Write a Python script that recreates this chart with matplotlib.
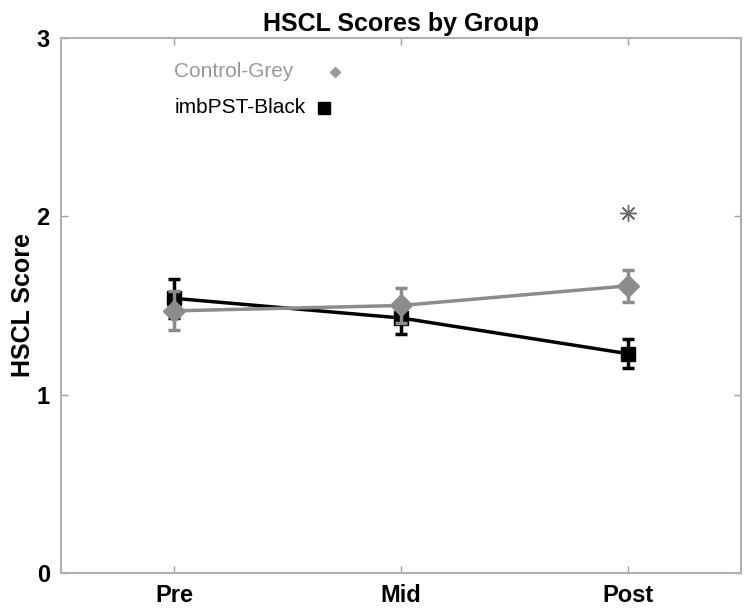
import numpy as np
import matplotlib
matplotlib.use("Agg")
from matplotlib import pyplot as plt

plt.rcParams['font.family'] = ['Liberation Sans', 'DejaVu Sans']

# data
timepoints = ['Pre', 'Mid', 'Post']
control_mean = [1.47, 1.50, 1.61]
control_err = [0.11, 0.10, 0.09]
imbpst_mean = [1.54, 1.43, 1.23]
imbpst_err = [0.11, 0.09, 0.08]
sig_x = [3]
sig_y = [2.02]
y_ticks = [0, 1, 2, 3]

x = np.arange(1, len(timepoints) + 1)

fig = plt.figure(figsize=(7.5, 6.1), dpi=100)
ax = fig.add_axes([0.0813, 0.0607, 0.9067, 0.877])

grey = '#8c8c8c'
ax.errorbar(x, imbpst_mean, yerr=imbpst_err, color='black', lw=2.5,
            marker='s', ms=10, mfc='black', mec='black', capsize=4, capthick=2.5, elinewidth=2.5, zorder=3)
ax.errorbar(x, control_mean, yerr=control_err, color=grey, lw=2.5,
            marker='D', ms=11, mfc=grey, mec=grey, capsize=4, capthick=2.5, elinewidth=2.5, zorder=4)

# significance marker
ax.plot(sig_x, sig_y, marker=(8, 2, 0), ms=12, color='#6a6a6a', mew=1.0, ls='none')

# legend drawn as text
ax.text(1.0, 2.81, 'Control-Grey', color='#999999', fontsize=15, va='center', ha='left')
ax.plot([1.71], [2.81], marker='D', ms=5, color='#999999', ls='none')
ax.text(1.0, 2.61, 'imbPST-Black', color='black', fontsize=15, va='center', ha='left')
ax.plot([1.66], [2.61], marker='s', ms=8, color='black', ls='none')

ax.set_xlim(0.5, 3.5)
ax.set_ylim(0, 3)
ax.set_xticks(x)
ax.set_xticklabels(timepoints, fontsize=17, fontweight='bold')
ax.set_yticks(y_ticks)
ax.set_yticklabels([str(t) for t in y_ticks], fontsize=17, fontweight='bold')
ax.tick_params(direction='in', top=True, right=True, length=5, width=1, color='#a0a0a0', pad=8)
for s in ax.spines.values():
    s.set_color('#b0b0b0')
    s.set_linewidth(1.5)

ax.set_ylabel('HSCL Score', fontsize=18, fontweight='bold', labelpad=1)
ax.set_title('HSCL Scores by Group', fontsize=18, fontweight='bold', pad=5)

fig.savefig('out.png', dpi=100)
